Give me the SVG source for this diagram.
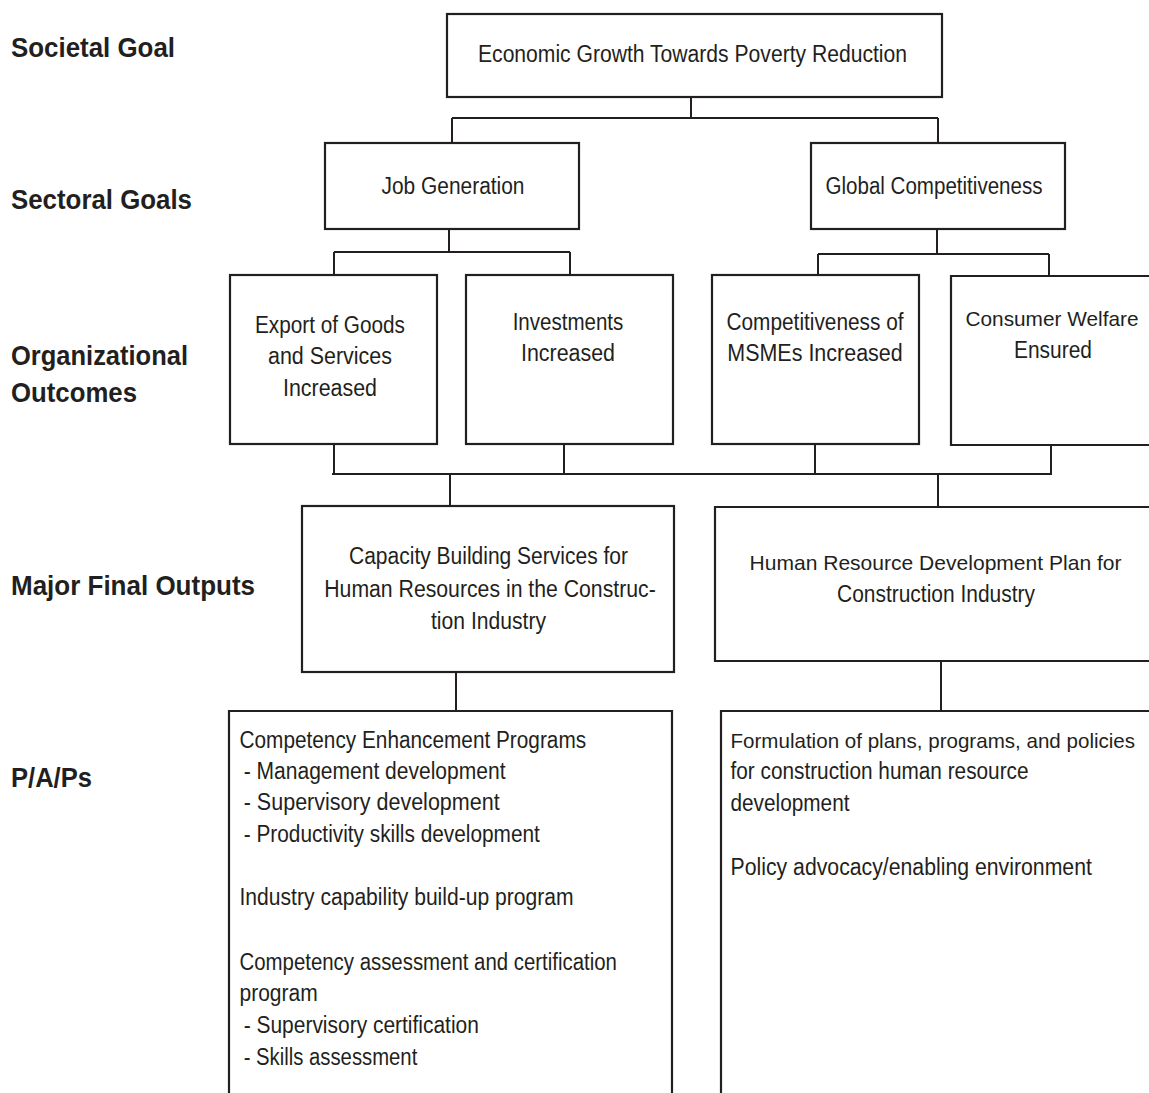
<svg xmlns="http://www.w3.org/2000/svg" width="1149" height="1093" viewBox="0 0 1149 1093">
<style>
  .bg { fill: #ffffff; }
  .box { fill: #ffffff; stroke: #231f20; stroke-width: 2.2; }
  .open { fill: none; stroke: #231f20; stroke-width: 2.2; }
  .conn { fill: none; stroke: #231f20; stroke-width: 2; }
  .lbl { font-family: "Liberation Sans", Arial, sans-serif; font-weight: bold; font-size: 27.5px; fill: #231f20; }
  .t { font-family: "Liberation Sans", Arial, sans-serif; font-size: 23px; fill: #231f20; text-anchor: middle; }
  .tl { font-family: "Liberation Sans", Arial, sans-serif; font-size: 23px; fill: #231f20; }
  .edge { font-size: 20.8px; }
</style>
<rect class="bg" x="0" y="0" width="1149" height="1093"/>

<g id="level-labels">
  <text class="lbl" x="11" y="57" textLength="164" lengthAdjust="spacingAndGlyphs">Societal Goal</text>
  <text class="lbl" x="11" y="209" textLength="181" lengthAdjust="spacingAndGlyphs">Sectoral Goals</text>
  <text class="lbl" x="11" y="365" textLength="177" lengthAdjust="spacingAndGlyphs">Organizational</text>
  <text class="lbl" x="11" y="402" textLength="126" lengthAdjust="spacingAndGlyphs">Outcomes</text>
  <text class="lbl" x="11" y="595" textLength="244" lengthAdjust="spacingAndGlyphs">Major Final Outputs</text>
  <text class="lbl" x="11" y="787" textLength="81" lengthAdjust="spacingAndGlyphs">P/A/Ps</text>
</g>

<g id="connectors">
  <path class="conn" d="M691,97 V118 M452,118 H938 M452,118 V143 M938,118 V143"/>
  <path class="conn" d="M449,229 V252 M334,252 H570 M334,252 V275 M570,252 V275"/>
  <path class="conn" d="M937,229 V254 M818,254 H1049 M818,254 V275 M1049,254 V276"/>
  <path class="conn" d="M334,444 V474 M564,444 V474 M815,444 V474 M1051,445 V474 M332,474 H1052"/>
  <path class="conn" d="M450,474 V506 M938,474 V507"/>
  <path class="conn" d="M456,672 V711 M941,661 V711"/>
</g>

<g id="societal-goal">
  <rect class="box" x="447" y="14" width="495" height="83"/>
  <text class="t" x="692.5" y="62" textLength="429" lengthAdjust="spacingAndGlyphs">Economic Growth Towards Poverty Reduction</text>
</g>

<g id="job-generation">
  <rect class="box" x="325" y="143" width="254" height="86"/>
  <text class="t" x="453" y="194" textLength="143" lengthAdjust="spacingAndGlyphs">Job Generation</text>
</g>

<g id="global-competitiveness">
  <rect class="box" x="811" y="143" width="254" height="86"/>
  <text class="t" x="934" y="194" textLength="217" lengthAdjust="spacingAndGlyphs">Global Competitiveness</text>
</g>

<g id="export-goods">
  <rect class="box" x="230" y="275" width="207" height="169"/>
  <text class="t" x="330" y="333" textLength="150" lengthAdjust="spacingAndGlyphs">Export of Goods</text>
  <text class="t" x="330" y="364" textLength="124" lengthAdjust="spacingAndGlyphs">and Services</text>
  <text class="t" x="330" y="396" textLength="94" lengthAdjust="spacingAndGlyphs">Increased</text>
</g>

<g id="investments">
  <rect class="box" x="466" y="275" width="207" height="169"/>
  <text class="t" x="568" y="330" textLength="110.7" lengthAdjust="spacingAndGlyphs">Investments</text>
  <text class="t" x="568" y="361" textLength="94" lengthAdjust="spacingAndGlyphs">Increased</text>
</g>

<g id="msme-competitiveness">
  <rect class="box" x="712" y="275" width="207" height="169"/>
  <text class="t" x="815" y="330" textLength="177" lengthAdjust="spacingAndGlyphs">Competitiveness of</text>
  <text class="t" x="815" y="361" textLength="175.5" lengthAdjust="spacingAndGlyphs">MSMEs Increased</text>
</g>

<g id="consumer-welfare">
  <path class="open" d="M1151,276 H951 V445 H1151"/>
  <text class="t edge" x="1052" y="326" textLength="173" lengthAdjust="spacingAndGlyphs">Consumer Welfare</text>
  <text class="t" x="1053" y="358" textLength="78" lengthAdjust="spacingAndGlyphs">Ensured</text>
</g>

<g id="capacity-building">
  <rect class="box" x="302" y="506" width="372" height="166"/>
  <text class="t" x="488.5" y="564" textLength="279" lengthAdjust="spacingAndGlyphs">Capacity Building Services for</text>
  <text class="t" x="490" y="597" textLength="331.5" lengthAdjust="spacingAndGlyphs">Human Resources in the Construc-</text>
  <text class="t" x="488.5" y="629" textLength="115" lengthAdjust="spacingAndGlyphs">tion Industry</text>
</g>

<g id="hrd-plan">
  <path class="open" d="M1151,507 H715 V661 H1151"/>
  <text class="t edge" x="935.5" y="570" textLength="372" lengthAdjust="spacingAndGlyphs">Human Resource Development Plan for</text>
  <text class="t" x="936" y="602" textLength="198" lengthAdjust="spacingAndGlyphs">Construction Industry</text>
</g>

<g id="pap-capacity">
  <path class="open" d="M229,1096 V711 H672 V1096"/>
  <text class="tl" x="239.5" y="748" textLength="346.6" lengthAdjust="spacingAndGlyphs">Competency Enhancement Programs</text>
  <text class="tl" x="243.7" y="779" textLength="261.8" lengthAdjust="spacingAndGlyphs">- Management development</text>
  <text class="tl" x="243.7" y="810" textLength="256" lengthAdjust="spacingAndGlyphs">- Supervisory development</text>
  <text class="tl" x="243.7" y="842" textLength="296.2" lengthAdjust="spacingAndGlyphs">- Productivity skills development</text>
  <text class="tl" x="239.5" y="905" textLength="334.1" lengthAdjust="spacingAndGlyphs">Industry capability build-up program</text>
  <text class="tl" x="239.5" y="970" textLength="377.4" lengthAdjust="spacingAndGlyphs">Competency assessment and certification</text>
  <text class="tl" x="239.5" y="1001" textLength="78.2" lengthAdjust="spacingAndGlyphs">program</text>
  <text class="tl" x="243.7" y="1033" textLength="235.2" lengthAdjust="spacingAndGlyphs">- Supervisory certification</text>
  <text class="tl" x="243.7" y="1065" textLength="173.6" lengthAdjust="spacingAndGlyphs">- Skills assessment</text>
</g>

<g id="pap-hrd">
  <path class="open" d="M721,1096 V711 H1151"/>
  <text class="tl edge" x="730.5" y="748" textLength="404.6" lengthAdjust="spacingAndGlyphs">Formulation of plans, programs, and policies</text>
  <text class="tl" x="730.5" y="779" textLength="298" lengthAdjust="spacingAndGlyphs">for construction human resource</text>
  <text class="tl" x="730.5" y="811" textLength="119" lengthAdjust="spacingAndGlyphs">development</text>
  <text class="tl" x="730.5" y="875" textLength="361.4" lengthAdjust="spacingAndGlyphs">Policy advocacy/enabling environment</text>
</g>
</svg>
